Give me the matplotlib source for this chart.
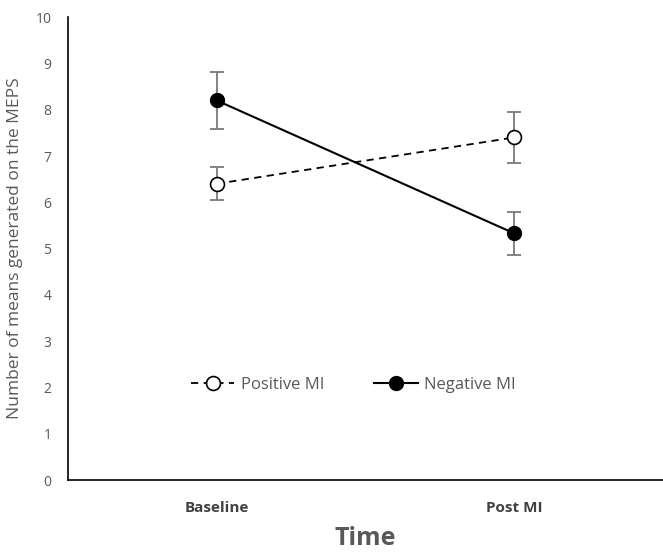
import matplotlib
matplotlib.use("Agg")
import matplotlib.pyplot as plt

categories = ["Baseline", "Post MI"]
positive_mean = [6.4, 7.4]
positive_err = [0.36, 0.56]
negative_mean = [8.2, 5.33]
negative_err = [0.62, 0.47]
yticks = list(range(0, 11))

plt.rcParams['font.family'] = ['Open Sans', 'DejaVu Sans']

fig = plt.figure(figsize=(6.63, 5.53), dpi=100)
ax = fig.add_axes([0.1026, 0.132, 0.897, 0.837])

x = list(range(len(categories)))
ecol = "#7a7a7a"
ax.errorbar(x, positive_mean, yerr=positive_err, fmt='none', ecolor=ecol,
            elinewidth=1.3, capsize=5, capthick=1.3, zorder=2)
ax.errorbar(x, negative_mean, yerr=negative_err, fmt='none', ecolor=ecol,
            elinewidth=1.3, capsize=5, capthick=1.3, zorder=2)
ax.plot(x, positive_mean, linestyle=(0, (4, 3)), color='black', linewidth=1.3,
        marker='o', markersize=10, markerfacecolor='white', markeredgecolor='black',
        markeredgewidth=1.2, label='Positive MI', zorder=3)
ax.plot(x, negative_mean, linestyle='-', color='black', linewidth=1.5,
        marker='o', markersize=10, markerfacecolor='black', markeredgecolor='black',
        label='Negative MI', zorder=3)

ax.set_xlim(-0.5, 1.5)
ax.set_ylim(0, 10)
ax.set_yticks(yticks)
ax.set_xticks(x)
ax.set_xticklabels(categories, fontweight='bold', fontsize=11, color='#404040')
ax.tick_params(axis='x', length=0, pad=15)
ax.tick_params(axis='y', length=0, pad=12, labelsize=10, labelcolor='#595959')
for s in ['top', 'right']:
    ax.spines[s].set_visible(False)
for s in ['left', 'bottom']:
    ax.spines[s].set_color('black')
    ax.spines[s].set_linewidth(1.2)

ax.set_ylabel("Number of means generated on the MEPS", fontsize=12.5, color='#595959')
ax.yaxis.set_label_coords(-0.075, 0.5)
ax.set_xlabel("Time", fontsize=18, fontweight='bold', color='#595959', labelpad=8)

leg = ax.legend(loc='center', bbox_to_anchor=(0.48, 0.205), ncol=2, frameon=False,
                fontsize=12, handlelength=2.6, columnspacing=3, labelcolor='#595959',
                handletextpad=0.4)

fig.savefig("out.png", dpi=100)
